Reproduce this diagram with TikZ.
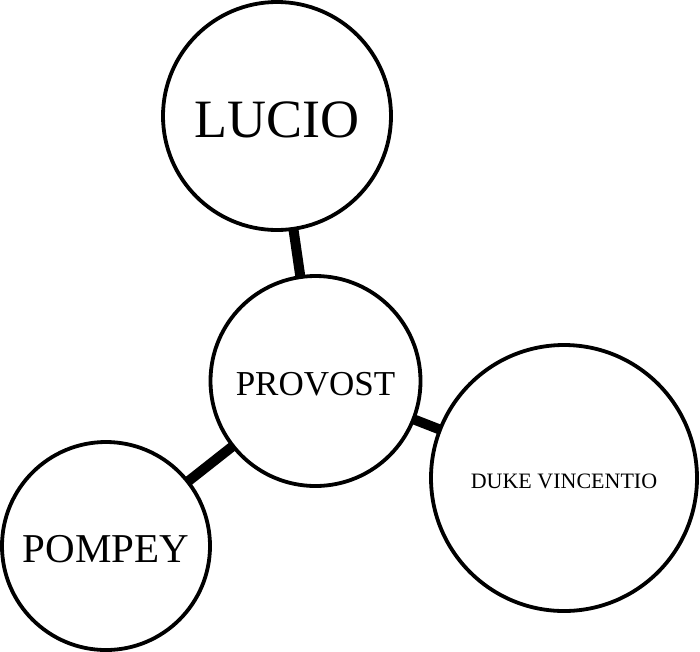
\documentclass[tikz,border=0pt]{standalone}
\usepackage{fontspec}
\setmainfont{Liberation Serif}
\usetikzlibrary{backgrounds}
\tikzset{
  person/.style={circle, draw=black, line width=3.8pt, fill=white, inner sep=0pt},
  link/.style={line width=10pt, draw=black}
}
\newcommand{\lowered}[2]{\raisebox{-#1}[\height][0pt]{#2}}
\begin{document}
\begin{tikzpicture}[x=1pt,y=-1pt]
\useasboundingbox (0,0) rectangle (700,651);
\node[person, minimum size=228pt, font=\fontsize{54}{60}\selectfont] (lucio) at (277,116) {\lowered{4pt}{LUCIO}};
\node[person, minimum size=210pt, font=\fontsize{35}{40}\selectfont] (provost) at (315.5,381) {\lowered{3pt}{PROVOST}};
\node[person, minimum size=266pt, font=\fontsize{22}{26}\selectfont] (duke) at (564,478) {\lowered{3pt}{DUKE VINCENTIO}};
\node[person, minimum size=208pt, font=\fontsize{41}{46}\selectfont] (pompey) at (106,546) {\lowered{3pt}{POMPEY}};
\begin{scope}[on background layer]
\draw[link] (lucio.center) -- (provost.center);
\draw[link] (provost.center) -- (duke.center);
\draw[link] (provost.center) -- (pompey.center);
\end{scope}
\end{tikzpicture}
\end{document}
